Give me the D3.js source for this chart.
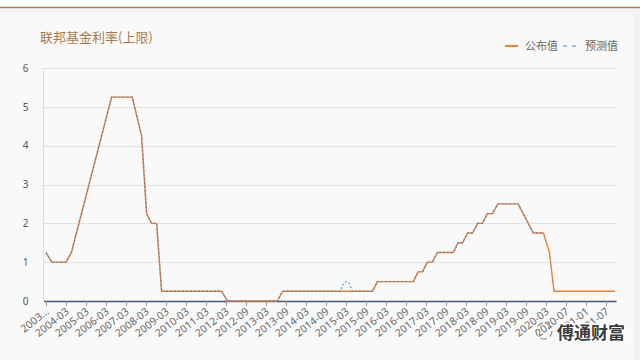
<!DOCTYPE html>
<html><head><meta charset="utf-8">
<script src="https://cdn.jsdelivr.net/npm/d3@7"></script>
<style>
html,body{margin:0;padding:0;background:#f9f9f9;}
svg{display:block;font-family:"Noto Sans","Noto Sans CJK SC",sans-serif;}
</style></head>
<body><svg id="c" width="640" height="360"></svg>
<script>
const title = "联邦基金利率(上限)";
const seriesNames = ["公布值", "预测值"];
const xLabels = ["2003...","2004-03","2005-03","2006-03","2007-03","2008-03","2009-03","2010-03","2011-03","2012-03","2012-09","2013-03","2013-09","2014-03","2014-09","2015-03","2015-09","2016-03","2016-09","2017-03","2017-09","2018-03","2018-09","2019-03","2019-09","2020-03","2020-07","2021-01","2021-07"];
const yTicks = [0,1,2,3,4,5,6];
// positions in units of the labelled category axis (index of tick label)
const pubPos  = [0,0.28,1.0,1.27,3.28,4.31,4.78,5.03,5.28,5.53,5.78,8.78,9.07,11.57,11.83,16.33,16.57,18.37,18.6,18.82,19.07,19.32,19.57,20.37,20.6,20.83,21.08,21.33,21.58,21.82,22.07,22.32,22.6,23.6,24.37,24.87,25.17,25.4,28.45];
const pubRate = [1.25,1.0,1.0,1.25,5.25,5.25,4.25,2.25,2.0,2.0,0.25,0.25,0,0,0.25,0.25,0.5,0.5,0.75,0.75,1.0,1.0,1.25,1.25,1.5,1.5,1.75,1.75,2.0,2.0,2.25,2.25,2.5,2.5,1.75,1.75,1.25,0.25,0.25];
const fcPos  = [0,0.28,1.0,1.27,3.28,4.31,4.78,5.03,5.28,5.53,5.78,8.78,9.07,11.57,11.83,14.72,14.87,15.02,15.17,15.32,16.33,16.57,18.37,18.6,18.82,19.07,19.32,19.57,20.37,20.6,20.83,21.08,21.33,21.58,21.82,22.07,22.32,22.6,23.6,24.37,24.87];
const fcRate = [1.25,1.0,1.0,1.25,5.25,5.25,4.25,2.25,2.0,2.0,0.25,0.25,0,0,0.25,0.25,0.45,0.5,0.45,0.25,0.25,0.5,0.5,0.75,0.75,1.0,1.0,1.25,1.25,1.5,1.5,1.75,1.75,2.0,2.0,2.25,2.25,2.5,2.5,1.75,1.75];

const svg = d3.select("#c");
const W = 640, H = 360;
const colPub = "#e0843e", colFc = "#5b7fa6";

// header band
svg.append("rect").attr("x",0).attr("y",0).attr("width",W).attr("height",7).attr("fill","#ffffff");
svg.append("line").attr("x1",0).attr("x2",W).attr("y1",7.5).attr("y2",7.5).attr("stroke","#b8774c").attr("stroke-width",1.5);
svg.append("rect").attr("x",0).attr("y",8.5).attr("width",W).attr("height",4).attr("fill","#efefef").attr("opacity",0.6);
svg.append("rect").attr("x",633).attr("y",14).attr("width",7).attr("height",H-14).attr("fill","#f1f1f1");

const x = d3.scaleLinear().domain([-0.125, 28.5]).range([43.5, 616]);
const y = d3.scaleLinear().domain([0, 6]).range([301, 68]);

// title
svg.append("text").attr("x",40).attr("y",42).attr("font-size",13).attr("fill","#a97a4c")
  .attr("font-family","Noto Sans CJK SC").text(title);

// legend
const lg = svg.append("g").attr("font-size",11).attr("fill","#666").attr("font-family","Noto Sans CJK SC");
lg.append("line").attr("x1",505).attr("x2",518).attr("y1",46).attr("y2",46).attr("stroke",colPub).attr("stroke-width",2);
lg.append("text").attr("x",525).attr("y",50).text(seriesNames[0]);
lg.append("line").attr("x1",563).attr("x2",578).attr("y1",46).attr("y2",46).attr("stroke","#8fa9c4").attr("stroke-width",1.5).attr("stroke-dasharray","4,5");
lg.append("text").attr("x",585).attr("y",50).text(seriesNames[1]);

// grid
svg.append("g").selectAll("line").data(yTicks.filter(d=>d>0)).join("line")
  .attr("x1",43.5).attr("x2",616).attr("y1",d=>Math.round(y(d))+0.5).attr("y2",d=>Math.round(y(d))+0.5)
  .attr("stroke","#e2e2e2").attr("stroke-width",1);
svg.append("line").attr("x1",43.5).attr("x2",43.5).attr("y1",y(6)).attr("y2",y(0)).attr("stroke","#dddddd");

// y axis labels
const ya = svg.append("g").attr("transform","translate(43.5,0)")
  .call(d3.axisLeft(y).tickValues(yTicks).tickSize(0).tickPadding(15).tickFormat(d3.format("d")));
ya.select(".domain").remove();
ya.selectAll("text").attr("font-size",10).attr("fill","#555").attr("font-family","Noto Sans");

// x axis
const xa = svg.append("g").attr("transform","translate(0,301)")
  .call(d3.axisBottom(x).tickValues(d3.range(xLabels.length)).tickFormat(i=>xLabels[i]).tickSizeOuter(0).tickSizeInner(5));
xa.select(".domain").attr("stroke","#44557a").attr("stroke-width",1.5);
xa.selectAll(".tick line").attr("stroke","#999");
xa.selectAll(".tick text").attr("font-size",10.5).attr("fill","#666").attr("font-family","Noto Sans")
  .attr("text-anchor","end").attr("x",0).attr("y",0).attr("dy","0.35em")
  .attr("transform","translate(1,9) rotate(-38)");

// lines
const lineGen = d3.line().x(d=>x(d[0])).y(d=>y(d[1]));
svg.append("path").datum(d3.zip(pubPos,pubRate)).attr("d",lineGen)
  .attr("fill","none").attr("stroke",colPub).attr("stroke-width",1.4).attr("stroke-linejoin","round");
svg.append("path").datum(d3.zip(fcPos,fcRate)).attr("d",lineGen)
  .attr("fill","none").attr("stroke",colFc).attr("stroke-width",1.4).attr("stroke-dasharray","2,2").attr("opacity",0.7);

// watermark
const wm = svg.append("g");
wm.append("circle").attr("cx",544).attr("cy",331).attr("r",8).attr("fill","none").attr("stroke","#888").attr("stroke-width",1.2).attr("stroke-dasharray","6,4");
wm.append("text").attr("x",557).attr("y",339).attr("font-size",17).attr("font-weight","bold").attr("font-family","Noto Sans CJK SC")
  .attr("fill","#3c3c3c").attr("stroke","#ffffff").attr("stroke-width",3).attr("paint-order","stroke").text("傅通财富");
</script></body></html>
